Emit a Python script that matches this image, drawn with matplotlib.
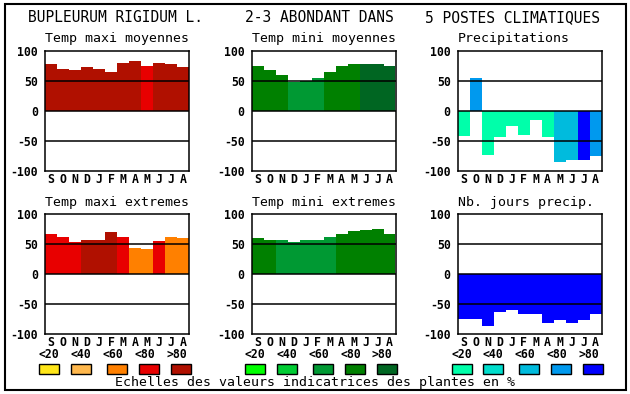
import matplotlib
matplotlib.use("Agg")
import matplotlib.pyplot as plt
from matplotlib.patches import Rectangle

# Mois (septembre -> août)
mois = ["S", "O", "N", "D", "J", "F", "M", "A", "M", "J", "J", "A"]
classes_txt = ["<20", "<40", "<60", "<80", ">80"]

# Valeurs indicatrices (%) et classe de couleur (0: <20 ... 4: >80)
tmax_moy = [77, 70, 67, 72, 70, 65, 80, 82, 75, 80, 77, 73]
tmax_moy_cl = [4, 4, 4, 4, 4, 4, 4, 4, 3, 4, 4, 4]
tmin_moy = [75, 67, 60, 47, 50, 55, 65, 75, 77, 77, 77, 75]
tmin_moy_cl = [3, 3, 3, 2, 2, 2, 3, 3, 3, 4, 4, 4]
precip = [-43, 55, -74, -44, -26, -41, -16, -44, -86, -83, -83, -76]
precip_cl = [0, 3, 0, 0, 0, 0, 0, 0, 2, 2, 4, 3]
tmax_ext = [67, 62, 53, 57, 57, 70, 62, 44, 42, 55, 62, 60]
tmax_ext_cl = [3, 3, 3, 4, 4, 4, 3, 2, 2, 3, 2, 2]
tmin_ext = [60, 57, 57, 54, 57, 57, 62, 67, 72, 74, 75, 67]
tmin_ext_cl = [3, 3, 2, 2, 2, 2, 2, 3, 3, 3, 3, 3]
nb_jours = [-75, -74, -87, -63, -60, -67, -67, -81, -77, -82, -76, -67]
nb_jours_cl = [4] * 12

rouges = ["#FFE619", "#FFB84D", "#FF8000", "#E80000", "#B01000"]
verts = ["#00FF00", "#00CC33", "#009933", "#008000", "#006622"]
bleus = ["#00FFAA", "#00DDCC", "#00BBDD", "#0099EE", "#0000FF"]

W, H = 630, 394
MONO = "DejaVu Sans Mono"

fig = plt.figure(figsize=(W / 100, H / 100), dpi=100)


def px_axes(x0, y0, x1, y1):
    return fig.add_axes([x0 / W, 1 - y1 / H, (x1 - x0) / W, (y1 - y0) / H])


def panneau(x0, y0, titre, vals, cls, palette):
    ax = px_axes(x0, y0, x0 + 144, y0 + 120)
    couleurs = [palette[c] for c in cls]
    ax.bar(range(12), vals, width=1.0, color=couleurs, linewidth=0, zorder=2)
    for h in (50, 0, -50):
        ax.axhline(h, color="black", lw=1.1, zorder=3)
    ax.set_xlim(-0.5, 11.5)
    ax.set_ylim(-100, 100)
    ax.set_yticks([100, 50, 0, -50, -100])
    ax.set_yticklabels(["100", "50", "0", "-50", "-100"],
                       family=MONO, fontweight="bold", fontsize=8.3)
    ax.set_xticks(range(12))
    ax.set_xticklabels(mois, family=MONO, fontweight="bold", fontsize=8.3)
    ax.tick_params(axis="y", length=0, pad=5)
    ax.tick_params(axis="x", length=0, pad=1.5)
    for s in ax.spines.values():
        s.set_linewidth(1.1)
    fig.text(x0 / W, 1 - (y0 - 12) / H, titre, family=MONO, fontsize=9.5,
             ha="left", va="center")
    return ax


panneau(45, 50.5, "Temp maxi moyennes", tmax_moy, tmax_moy_cl, rouges)
panneau(251.5, 50.5, "Temp mini moyennes", tmin_moy, tmin_moy_cl, verts)
panneau(457.5, 50.5, "Precipitations", precip, precip_cl, bleus)
panneau(45, 214.3, "Temp maxi extremes", tmax_ext, tmax_ext_cl, rouges)
panneau(251.5, 214.3, "Temp mini extremes", tmin_ext, tmin_ext_cl, verts)
panneau(457.5, 214.3, "Nb. jours precip.", nb_jours, nb_jours_cl, bleus)

# Titres du haut
for xc, t in [(115, "BUPLEURUM RIGIDUM L."), (319, "2-3 ABONDANT DANS"),
              (512.5, "5 POSTES CLIMATIQUES")]:
    fig.text(xc / W, 1 - 18 / H, t, family=MONO, fontsize=10.5,
             ha="center", va="center")

# Légendes des classes
leg_lab = [[49, 81, 113, 145, 177], [255, 287, 319, 351, 382],
           [462, 493, 525, 557, 589]]
leg_box = [[49, 81, 117, 149, 181], [255, 287, 323, 355, 387],
           [462, 493, 529, 561, 593]]
for pal, xl, xb in zip([rouges, verts, bleus], leg_lab, leg_box):
    for i in range(5):
        fig.text(xl[i] / W, 1 - 355 / H, classes_txt[i], family=MONO,
                 fontweight="bold", fontsize=8.3, ha="center", va="center")
        fig.patches.append(Rectangle(((xb[i] - 10) / W, 1 - 373.5 / H), 20 / W, 9.5 / H,
                                     transform=fig.transFigure, facecolor=pal[i],
                                     edgecolor="black", lw=1))

fig.text(315 / W, 1 - 382.5 / H, "Echelles des valeurs indicatrices des plantes en %",
         family=MONO, fontsize=9.5, ha="center", va="center")

# Cadre extérieur
fig.patches.append(Rectangle((4.5 / W, 1 - 390 / H), 621.5 / W, 386 / H,
                             transform=fig.transFigure, facecolor="none",
                             edgecolor="black", lw=1.5))

fig.savefig("out.png", dpi=100)
